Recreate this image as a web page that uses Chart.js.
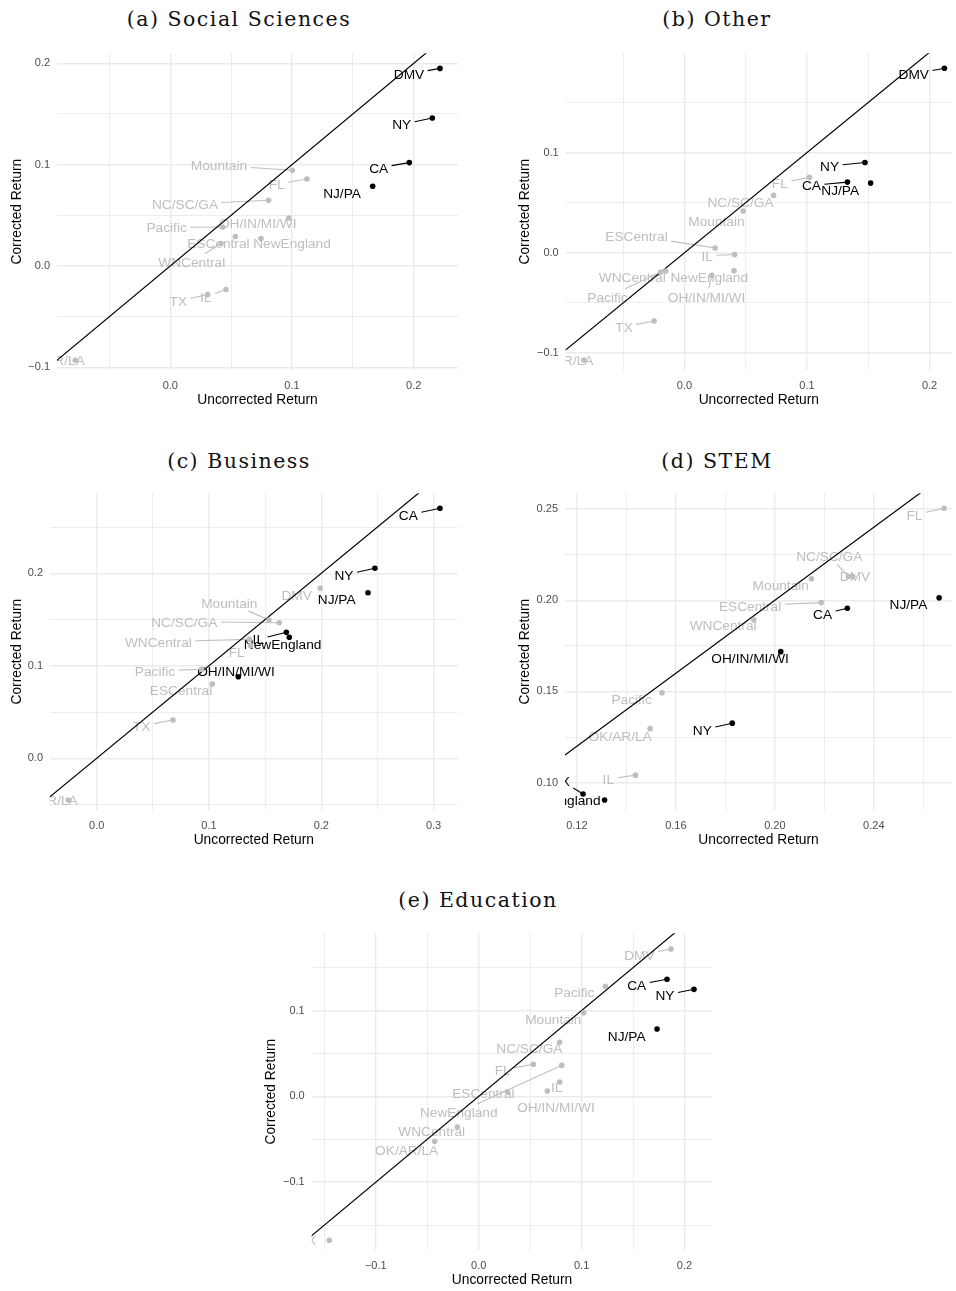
<!DOCTYPE html>
<html>
<head>
<meta charset="utf-8">
<script src="https://cdn.jsdelivr.net/npm/chart.js@4.4.1/dist/chart.umd.min.js"></script>
<style>
  html, body { margin: 0; padding: 0; background: #fff; overflow: hidden; }
  body { width: 956px; height: 1291px; position: relative; }
  canvas { position: absolute; }
  .caption {
    position: absolute; text-align: center; color: #111;
    font-family: "DejaVu Serif", serif; font-size: 20.5px; line-height: 24px;
    letter-spacing: 1.5px; white-space: nowrap;
  }
</style>
</head>
<body>
<div class="caption" style="left:0;top:7px;width:478px">(a) Social Sciences</div>
<div class="caption" style="left:478px;top:7px;width:478px">(b) Other</div>
<div class="caption" style="left:0;top:449px;width:478px">(c) Business</div>
<div class="caption" style="left:478px;top:449px;width:478px">(d) STEM</div>
<div class="caption" style="left:239px;top:888px;width:478px">(e) Education</div>

<canvas id="panelA" width="478" height="385" style="left:0;top:30px"></canvas>
<canvas id="panelB" width="448" height="385" style="left:508px;top:30px"></canvas>
<canvas id="panelC" width="478" height="385" style="left:0;top:470px"></canvas>
<canvas id="panelD" width="448" height="385" style="left:508px;top:470px"></canvas>
<canvas id="panelE" width="478" height="385" style="left:254px;top:910px"></canvas>

<script>
// Census regions, same order in every panel
const regions = ['DMV', 'NY', 'CA', 'NJ/PA', 'Mountain', 'FL', 'NC/SC/GA', 'OH/IN/MI/WI',
  'Pacific', 'ESCentral', 'NewEngland', 'WNCentral', 'TX', 'IL', 'OK/AR/LA'];

// (a) Social Sciences
const socUncorrected = [0.2216, 0.2153, 0.1964, 0.1663, 0.1003, 0.1123, 0.0808, 0.0973, 0.0430, 0.0534, 0.0745, 0.0417, 0.0307, 0.0458, -0.0780];
const socCorrected   = [0.1950, 0.1460, 0.1020, 0.0787, 0.0945, 0.0859, 0.0649, 0.0474, 0.0385, 0.0290, 0.0270, 0.0221, -0.0283, -0.0233, -0.0931];
const socSignificant = [1, 1, 1, 1, 0, 0, 0, 0, 0, 0, 0, 0, 0, 0, 0];
const socXRange = [-0.0931, 0.2364];
const socYRange = [-0.1027, 0.2099];
const socXMajor = [0, 0.1, 0.2];
const socXMinor = [-0.05, 0.05, 0.15];
const socYMajor = [-0.1, 0, 0.1, 0.2];
const socYMinor = [-0.05, 0.05, 0.15];

// (b) Other
const othUncorrected = [0.2121, 0.1473, 0.1330, 0.1519, 0.0479, 0.1020, 0.0727, 0.0223, -0.0194, 0.0250, 0.0404, -0.0153, -0.0248, 0.0409, -0.0821];
const othCorrected   = [0.1841, 0.0901, 0.0705, 0.0695, 0.0416, 0.0752, 0.0572, -0.0226, -0.0192, 0.0047, -0.0179, -0.0182, -0.0681, -0.0017, -0.1070];
const othSignificant = [1, 1, 1, 1, 0, 0, 0, 0, 0, 0, 0, 0, 0, 0, 0];
const othXRange = [-0.0969, 0.2183];
const othYRange = [-0.1170, 0.1990];
const othXMajor = [0, 0.1, 0.2];
const othXMinor = [-0.05, 0.05, 0.15];
const othYMajor = [-0.1, 0, 0.1];
const othYMinor = [-0.05, 0.05, 0.15];

// (c) Business
const busUncorrected = [0.1991, 0.2478, 0.3057, 0.2416, 0.1534, 0.1370, 0.1626, 0.1261, 0.0935, 0.1030, 0.1715, 0.1359, 0.0679, 0.1689, -0.0253];
const busCorrected   = [0.1838, 0.2054, 0.2703, 0.1790, 0.1495, 0.1220, 0.1466, 0.0882, 0.0962, 0.0803, 0.1308, 0.1286, 0.0414, 0.1362, -0.0451];
const busSignificant = [0, 1, 1, 1, 0, 0, 0, 1, 0, 0, 1, 0, 0, 1, 0];
const busXRange = [-0.0416, 0.3215];
const busYRange = [-0.0559, 0.2865];
const busXMajor = [0, 0.1, 0.2, 0.3];
const busXMinor = [0.05, 0.15, 0.25];
const busYMajor = [0, 0.1, 0.2];
const busYMinor = [-0.05, 0.05, 0.15, 0.25];

// (d) STEM
const stemUncorrected = [0.2315, 0.1828, 0.2293, 0.2664, 0.2148, 0.2684, 0.2297, 0.2024, 0.1544, 0.2188, 0.1312, 0.1915, 0.1225, 0.1437, 0.1496];
const stemCorrected   = [0.2129, 0.1326, 0.1956, 0.2013, 0.2118, 0.2504, 0.2131, 0.1718, 0.1493, 0.1987, 0.0905, 0.1892, 0.0938, 0.1041, 0.1296];
const stemSignificant = [0, 1, 1, 1, 0, 0, 0, 1, 0, 0, 1, 0, 1, 0, 0];
const stemXRange = [0.1152, 0.2716];
const stemYRange = [0.0850, 0.2586];
const stemXMajor = [0.12, 0.16, 0.20, 0.24];
const stemXMinor = [0.14, 0.18, 0.22, 0.26];
const stemYMajor = [0.10, 0.15, 0.20, 0.25];
const stemYMinor = [0.125, 0.175, 0.225];

// (e) Education
const eduUncorrected = [0.1869, 0.2092, 0.1830, 0.1733, 0.1020, 0.0531, 0.0787, 0.0667, 0.1230, 0.0278, 0.0807, -0.0208, -0.1452, 0.0787, -0.0428];
const eduCorrected   = [0.1717, 0.1247, 0.1364, 0.0784, 0.0974, 0.0373, 0.0629, 0.0062, 0.1282, 0.0054, 0.0361, -0.0358, -0.1678, 0.0167, -0.0525];
const eduSignificant = [0, 1, 1, 1, 0, 0, 0, 0, 0, 0, 0, 0, 0, 0, 0];
const eduXRange = [-0.1623, 0.2270];
const eduYRange = [-0.1791, 0.1900];
const eduXMajor = [-0.1, 0, 0.1, 0.2];
const eduXMinor = [-0.15, -0.05, 0.05, 0.15];
const eduYMajor = [-0.1, 0, 0.1];
const eduYMinor = [-0.15, -0.05, 0.05, 0.15];

// Repelled label placement (label centres, in axis units)
const socLabelX = [0.1961, 0.1901, 0.1712, 0.1411, 0.0400, 0.0874, 0.0121, 0.0718, -0.0030, 0.0395, 0.1000, 0.0176, 0.0066, 0.0291, -0.0962];
const socLabelY = [0.1895, 0.1396, 0.0968, 0.0724, 0.0991, 0.0807, 0.0609, 0.0425, 0.0379, 0.0224, 0.0224, 0.0037, -0.0345, -0.0306, -0.0931];
const othLabelX = [0.1871, 0.1184, 0.1036, 0.1271, 0.0261, 0.0778, 0.0457, 0.0180, -0.0628, -0.0391, 0.0202, -0.0426, -0.0493, 0.0186, -0.1000];
const othLabelY = [0.1785, 0.0864, 0.0672, 0.0628, 0.0316, 0.0692, 0.0505, -0.0442, -0.0442, 0.0170, -0.0242, -0.0242, -0.0738, -0.0030, -0.1070];
const busLabelX = [0.1781, 0.2202, 0.2775, 0.2137, 0.1181, 0.1247, 0.0780, 0.1240, 0.0519, 0.0751, 0.1656, 0.0549, 0.0401, 0.1439, -0.0450];
const busLabelY = [0.1765, 0.1982, 0.2630, 0.1722, 0.1682, 0.1153, 0.1477, 0.0940, 0.0944, 0.0738, 0.1236, 0.1260, 0.0349, 0.1286, -0.0451];
const stemLabelX = [0.2324, 0.1707, 0.2193, 0.2540, 0.2024, 0.2564, 0.2220, 0.1900, 0.1421, 0.1900, 0.1139, 0.1791, 0.1136, 0.1327, 0.1375];
const stemLabelY = [0.2133, 0.1289, 0.1923, 0.1980, 0.2084, 0.2468, 0.2243, 0.1682, 0.1457, 0.1969, 0.0905, 0.1865, 0.1011, 0.1019, 0.1256];
const eduLabelX = [0.1561, 0.1810, 0.1535, 0.1438, 0.0725, 0.0233, 0.0492, 0.0751, 0.0929, 0.0045, -0.0194, -0.0457, -0.1665, 0.0758, -0.0700];
const eduLabelY = [0.1647, 0.1181, 0.1297, 0.0706, 0.0901, 0.0307, 0.0566, -0.0121, 0.1219, 0.0042, -0.0187, -0.0404, -0.1675, 0.0112, -0.0626];

// Styling
const SANS = '"Liberation Sans", Arial, Helvetica, sans-serif';
const GREY = '#bebebe';
const BLACK = '#000000';
const GRID = '#ebebeb';
const LABEL_SIZE = 13.7;
const BOX_PAD = 3.5;      // padding around each label box
const MIN_SEGMENT = 10;   // shortest leader that gets drawn

function fmtTick(v, digits) {
  const s = Math.abs(v).toFixed(digits);
  return v < -1e-12 ? '\u2212' + s : s;
}
const near = (list, v) => list.some(m => Math.abs(m - v) < 1e-9);

// Region names with leader segments, clipped to the panel
const regionLabels = {
  id: 'regionLabels',
  beforeDatasetsDraw(chart, args, opts) {
    const { ctx, chartArea: a, scales: { x, y } } = chart;
    ctx.save();
    ctx.beginPath();
    ctx.rect(a.left, a.top, a.right - a.left, a.bottom - a.top);
    ctx.clip();
    ctx.font = LABEL_SIZE + 'px ' + SANS;
    ctx.textAlign = 'center';
    ctx.textBaseline = 'alphabetic';
    ctx.lineWidth = 1.1;
    regions.forEach((name, i) => {
      const color = opts.sig[i] ? BLACK : GREY;
      const px = x.getPixelForValue(opts.ux[i]);
      const py = y.getPixelForValue(opts.cy[i]);
      const lx = x.getPixelForValue(opts.lx[i]);
      const ly = y.getPixelForValue(opts.ly[i]);
      const hw = ctx.measureText(name).width / 2 + BOX_PAD;
      const hh = LABEL_SIZE * 0.358 + BOX_PAD;
      const dx = px - lx, dy = py - ly;
      if (Math.abs(dx) > hw || Math.abs(dy) > hh) {
        const t = Math.min(dx !== 0 ? hw / Math.abs(dx) : Infinity,
                           dy !== 0 ? hh / Math.abs(dy) : Infinity);
        const sx = lx + dx * t, sy = ly + dy * t;
        if (Math.hypot(px - sx, py - sy) > MIN_SEGMENT) {
          ctx.strokeStyle = color;
          ctx.beginPath();
          ctx.moveTo(sx, sy);
          ctx.lineTo(px, py);
          ctx.stroke();
        }
      }
      ctx.fillStyle = color;
      ctx.fillText(name, lx, ly + LABEL_SIZE * 0.358);
    });
    ctx.restore();
  }
};

function axis(range, major, minor, digits, title, isX, boxSize) {
  const all = major.concat(minor).sort((p, q) => p - q);
  return {
    type: 'linear',
    position: isX ? 'bottom' : 'left',
    min: range[0],
    max: range[1],
    afterBuildTicks: s => { s.ticks = all.map(v => ({ value: v })); },
    afterFit: s => { if (isX) s.height = boxSize; else s.width = boxSize; },
    border: { display: false },
    grid: {
      drawTicks: false,
      color: GRID,
      lineWidth: c => near(major, c.tick.value) ? 1.4 : 0.9
    },
    ticks: {
      autoSkip: false,
      maxRotation: 0,
      minRotation: 0,
      padding: isX ? 8.9 : 7,
      color: '#4d4d4d',
      font: { family: SANS, size: 11 },
      callback: v => near(major, v) ? fmtTick(v, digits) : ''
    },
    title: {
      display: true,
      text: title,
      color: BLACK,
      font: { family: SANS, size: 13.8 },
      padding: isX ? { top: 0, bottom: 6.7 } : { top: 8.9, bottom: 0 }
    }
  };
}

function drawPanel(id, p) {
  const lo = Math.min(p.xRange[0], p.yRange[0]);
  const hi = Math.max(p.xRange[1], p.yRange[1]);
  new Chart(document.getElementById(id), {
    type: 'scatter',
    data: {
      datasets: [
        {
          type: 'scatter',
          data: regions.map((r, i) => ({ x: p.ux[i], y: p.cy[i] })),
          pointRadius: 2.8,
          pointBorderWidth: 0,
          pointBackgroundColor: p.sig.map(s => s ? BLACK : GREY),
          order: 0
        },
        {
          type: 'line',
          data: [{ x: lo, y: lo }, { x: hi, y: hi }],
          borderColor: BLACK,
          borderWidth: 1.2,
          pointRadius: 0,
          fill: false,
          clip: 0,
          order: 1
        }
      ]
    },
    options: {
      responsive: false,
      animation: false,
      events: [],
      layout: { padding: { left: 0, right: p.padRight, top: 23.3, bottom: 0 } },
      plugins: {
        legend: { display: false },
        tooltip: { enabled: false },
        regionLabels: { ux: p.ux, cy: p.cy, sig: p.sig, lx: p.lx, ly: p.ly }
      },
      scales: {
        x: axis(p.xRange, p.xMajor, p.xMinor, p.digits, 'Uncorrected Return', true, 45),
        y: axis(p.yRange, p.yMajor, p.yMinor, p.digits, 'Corrected Return', false, p.yWidth)
      }
    },
    plugins: [regionLabels]
  });
}

drawPanel('panelA', { ux: socUncorrected, cy: socCorrected, sig: socSignificant, lx: socLabelX, ly: socLabelY,
  xRange: socXRange, yRange: socYRange, xMajor: socXMajor, xMinor: socXMinor, yMajor: socYMajor, yMinor: socYMinor,
  digits: 1, yWidth: 57, padRight: 20 });
drawPanel('panelB', { ux: othUncorrected, cy: othCorrected, sig: othSignificant, lx: othLabelX, ly: othLabelY,
  xRange: othXRange, yRange: othYRange, xMajor: othXMajor, xMinor: othXMinor, yMajor: othYMajor, yMinor: othYMinor,
  digits: 1, yWidth: 57.7, padRight: 0 });
drawPanel('panelC', { ux: busUncorrected, cy: busCorrected, sig: busSignificant, lx: busLabelX, ly: busLabelY,
  xRange: busXRange, yRange: busYRange, xMajor: busXMajor, xMinor: busXMinor, yMajor: busYMajor, yMinor: busYMinor,
  digits: 1, yWidth: 50, padRight: 20.3 });
drawPanel('panelD', { ux: stemUncorrected, cy: stemCorrected, sig: stemSignificant, lx: stemLabelX, ly: stemLabelY,
  xRange: stemXRange, yRange: stemYRange, xMajor: stemXMajor, xMinor: stemXMinor, yMajor: stemYMajor, yMinor: stemYMinor,
  digits: 2, yWidth: 57, padRight: 0 });
drawPanel('panelE', { ux: eduUncorrected, cy: eduCorrected, sig: eduSignificant, lx: eduLabelX, ly: eduLabelY,
  xRange: eduXRange, yRange: eduYRange, xMajor: eduXMajor, xMinor: eduXMinor, yMajor: eduYMajor, yMinor: eduYMinor,
  digits: 1, yWidth: 57.7, padRight: 19.7 });
</script>
</body>
</html>
